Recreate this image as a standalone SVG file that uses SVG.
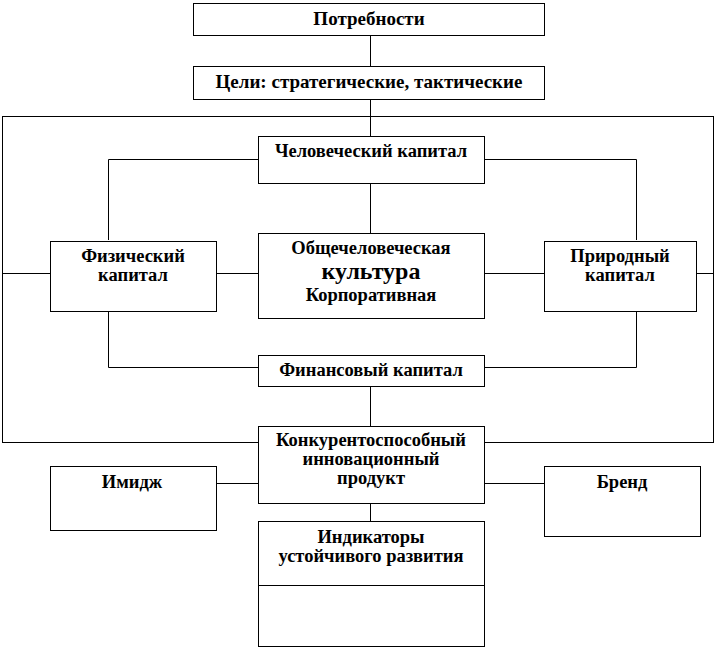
<svg xmlns="http://www.w3.org/2000/svg" width="716" height="650" viewBox="0 0 716 650">
<style>
.box{fill:#fff;stroke:#000;stroke-width:1}
.ln{fill:none;stroke:#000;stroke-width:1}
</style>
<rect width="716" height="650" fill="#fff"/>
<g id="connectors">
<rect class="ln" x="2.5" y="116.5" width="711" height="326"/>
<path class="ln" d="M370.5 35 V66 M370.5 99 V136 M108.5 240 V159.5 H258 M484 159.5 H636.5 V240 M370.5 184 V233 M2 273.5 H50 M216 273.5 H258 M484 273.5 H544 M697 273.5 H714 M108.5 311 V367.5 H258 M484 367.5 H636.5 V311 M370.5 387 V426 M216 483.5 H258 M484 483.5 H544 M370.5 503 V521"/>
</g>
<g id="potrebnosti"><rect class="box" x="193.5" y="3.5" width="351" height="32"/><text font-family="Liberation Serif" font-weight="bold" font-size="19" text-anchor="middle" x="369" y="25">Потребности</text></g>
<g id="tseli"><rect class="box" x="193.5" y="66.5" width="351" height="33"/><text font-family="Liberation Serif" font-weight="bold" font-size="19" text-anchor="middle" x="369" y="88">Цели: стратегические, тактические</text></g>
<g id="chelovecheskiy"><rect class="box" x="258.5" y="136.5" width="226" height="47"/><text font-family="Liberation Serif" font-weight="bold" font-size="18.5" text-anchor="middle" x="371" y="157">Человеческий капитал</text></g>
<g id="fizicheskiy"><rect class="box" x="50.5" y="241.5" width="166" height="70"/><text font-family="Liberation Serif" font-weight="bold" font-size="18.5" text-anchor="middle" x="133" y="262">Физический</text><text font-family="Liberation Serif" font-weight="bold" font-size="18.5" text-anchor="middle" x="133" y="281">капитал</text></g>
<g id="kultura"><rect class="box" x="258.5" y="233.5" width="226" height="85"/><text font-family="Liberation Serif" font-weight="bold" font-size="18.5" text-anchor="middle" x="371" y="254">Общечеловеческая</text><text font-family="Liberation Serif" font-weight="bold" font-size="24" text-anchor="middle" x="371" y="279">культура</text><text font-family="Liberation Serif" font-weight="bold" font-size="18.5" text-anchor="middle" x="371" y="301">Корпоративная</text></g>
<g id="prirodnyy"><rect class="box" x="544.5" y="241.5" width="152" height="70"/><text font-family="Liberation Serif" font-weight="bold" font-size="18.5" text-anchor="middle" x="620" y="262">Природный</text><text font-family="Liberation Serif" font-weight="bold" font-size="18.5" text-anchor="middle" x="620" y="281">капитал</text></g>
<g id="finansovyy"><rect class="box" x="258.5" y="355.5" width="226" height="31"/><text font-family="Liberation Serif" font-weight="bold" font-size="18.5" text-anchor="middle" x="371" y="376">Финансовый капитал</text></g>
<g id="produkt"><rect class="box" x="258.5" y="426.5" width="226" height="77"/><text font-family="Liberation Serif" font-weight="bold" font-size="18.5" text-anchor="middle" x="371" y="446">Конкурентоспособный</text><text font-family="Liberation Serif" font-weight="bold" font-size="18.5" text-anchor="middle" x="371" y="465">инновационный</text><text font-family="Liberation Serif" font-weight="bold" font-size="18.5" text-anchor="middle" x="371" y="484">продукт</text></g>
<g id="imidzh"><rect class="box" x="50.5" y="466.5" width="166" height="64"/><text font-family="Liberation Serif" font-weight="bold" font-size="18.5" text-anchor="middle" x="132" y="488">Имидж</text></g>
<g id="brend"><rect class="box" x="544.5" y="466.5" width="156" height="70"/><text font-family="Liberation Serif" font-weight="bold" font-size="18.5" text-anchor="middle" x="622" y="488">Бренд</text></g>
<g id="indikatory"><rect class="box" x="258.5" y="521.5" width="226" height="125"/><line class="ln" x1="258" y1="585.5" x2="484" y2="585.5"/><text font-family="Liberation Serif" font-weight="bold" font-size="18.5" text-anchor="middle" x="371" y="543">Индикаторы</text><text font-family="Liberation Serif" font-weight="bold" font-size="18.5" text-anchor="middle" x="371" y="562">устойчивого развития</text></g>
</svg>
